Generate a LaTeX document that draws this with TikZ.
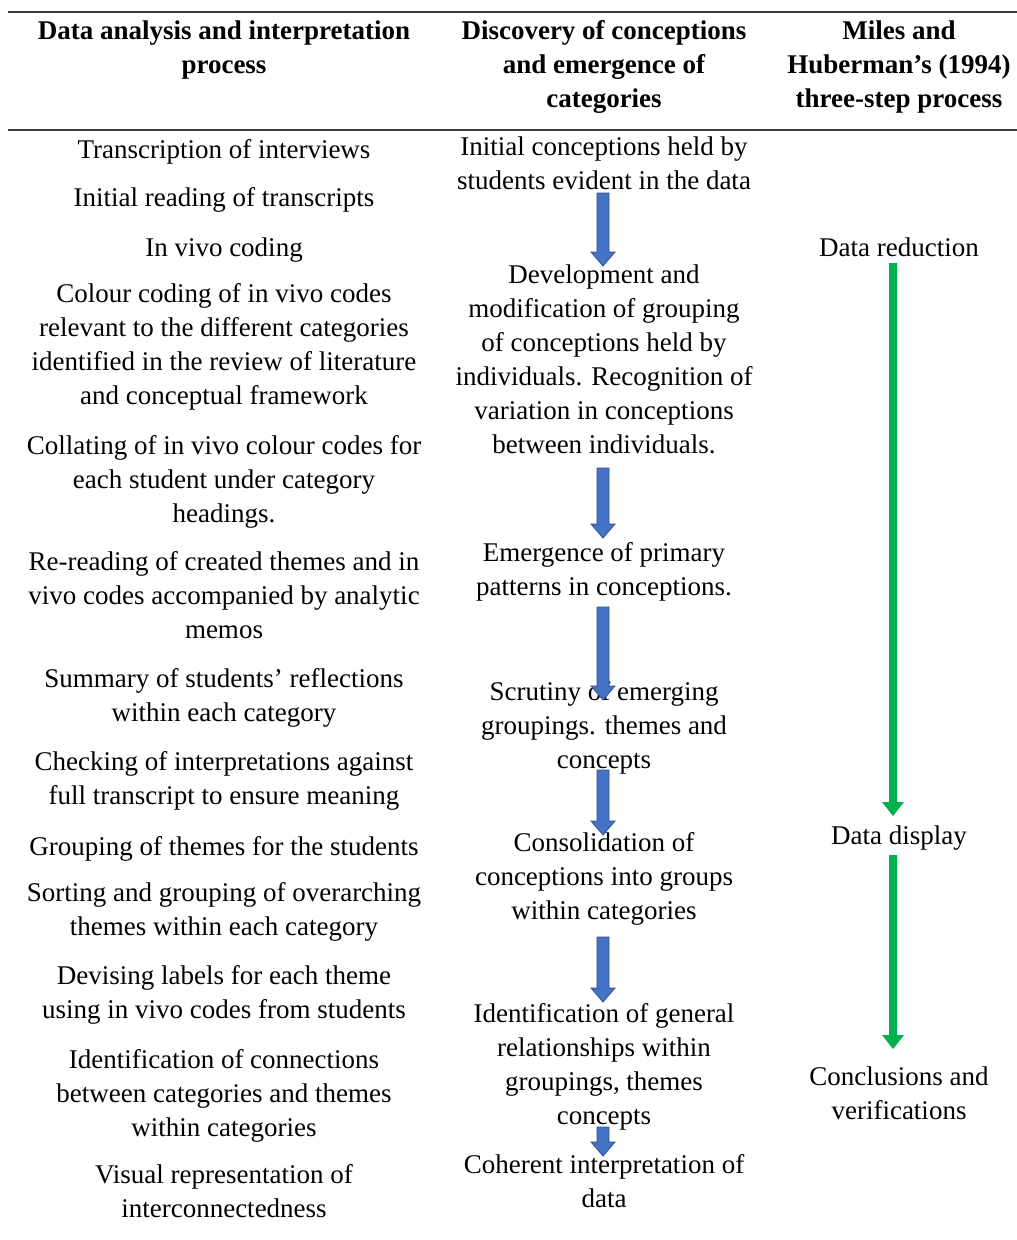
\documentclass[tikz,border=0pt]{standalone}
\usepackage{fontspec}
\setmainfont{Liberation Serif}
\usetikzlibrary{calc}

\definecolor{arrowblue}{HTML}{4472C4}
\definecolor{arrowblueedge}{HTML}{2F528F}
\definecolor{arrowgreen}{HTML}{00B050}
\definecolor{rulegray}{HTML}{3A3A3A}

% vertical block arrow from coordinate #2 down to coordinate #3
% #4 half shaft width, #5 half head width, #6 head length
\newcommand{\vblockarrow}[6]{%
  \draw[#1] let \p1=(#2), \p2=(#3) in
    (\x1-#4pt,\y1) -- (\x1+#4pt,\y1) -- (\x1+#4pt,\y2+#6pt) --
    (\x1+#5pt,\y2+#6pt) -- (\x1,\y2) -- (\x1-#5pt,\y2+#6pt) --
    (\x1-#4pt,\y2+#6pt) -- cycle;}

\tikzset{
  cell/.style={align=center, inner sep=0pt, yshift=-3.5pt,
    font=\fontsize{27}{34}\selectfont,
    execute at begin node=\strut, execute at end node=\strut},
  headcell/.style={cell, yshift=-1.5pt, font=\fontsize{27}{34}\selectfont\bfseries},
  bluearrow/.style={fill=arrowblue, draw=arrowblueedge, line width=0.8pt},
  greenarrow/.style={fill=arrowgreen, draw=none},
  tablerule/.style={draw=rulegray, line width=1.6pt}
}

\begin{document}
\begin{tikzpicture}[x=1pt,y=1pt]
\useasboundingbox[fill=white] (0,0) rectangle (1017,-1240);

% horizontal rules of the table
\draw[tablerule] (8,-12) -- (1017,-12);
\draw[tablerule] (8,-130) -- (1017,-130);

% column headings
\node[headcell] (h1) at (224,-47) {Data analysis and interpretation\\process};
\node[headcell] (h2) at (604,-64) {Discovery of conceptions\\and emergence of\\categories};
\node[headcell] (h3) at (899,-64) {Miles and\\Huberman’s (1994)\\three-step process};

% left column: analysis steps
\node[cell] (l1) at (224,-148) {Transcription of interviews};
\node[cell] (l2) at (224,-196) {Initial reading of transcripts};
\node[cell] (l3) at (224,-246) {In vivo coding};
\node[cell] (l4) at (224,-345.5) {Colour coding of in vivo codes\\relevant to the different categories\\identified in the review of literature\\and conceptual framework};
\node[cell] (l5) at (224,-480.5) {Collating of in vivo colour codes for\\each student under category\\headings.};
\node[cell] (l6) at (224,-597) {Re-reading of created themes and in\\vivo codes accompanied by analytic\\memos};
\node[cell] (l7) at (224,-697) {Summary of students’ reflections\\within each category};
\node[cell] (l8) at (224,-779.5) {Checking of interpretations against\\full transcript to ensure meaning};
\node[cell] (l9) at (224,-845) {Grouping of themes for the students};
\node[cell] (l10) at (224,-910.5) {Sorting and grouping of overarching\\themes within each category};
\node[cell] (l11) at (224,-993.5) {Devising labels for each theme\\using in vivo codes from students};
\node[cell] (l12) at (224,-1094.5) {Identification of connections\\between categories and themes\\within categories};
\node[cell] (l13) at (224,-1193) {Visual representation of\\interconnectedness};

% middle column: emergence of categories
\node[cell] (m1) at (604,-165) {Initial conceptions held by\\students evident in the data};
\node[cell] (m2) at (604,-361) {Development and\\modification of grouping\\of conceptions held by\\individuals. Recognition of\\variation in conceptions\\between individuals.};
\node[cell] (m3) at (604,-571) {Emergence of primary\\patterns in conceptions.};
\node[cell] (m4) at (604,-727) {Scrutiny of emerging\\groupings. themes and\\concepts};
\node[cell] (m5) at (604,-878) {Consolidation of\\conceptions into groups\\within categories};
\node[cell] (m6) at (604,-1066) {Identification of general\\relationships within\\groupings, themes\\concepts};
\node[cell] (m7) at (604,-1182.5) {Coherent interpretation of\\data};

% right column: three-step process
\node[cell] (r1) at (899,-246) {Data reduction};
\node[cell] (r2) at (899,-834) {Data display};
\node[cell] (r3) at (899,-1094.5) {Conclusions and\\verifications};

% arrow end points between the middle cells
\coordinate (b1s) at (603,-193);  \coordinate (b1e) at (603,-266);
\coordinate (b2s) at (603,-468);  \coordinate (b2e) at (603,-538);
\coordinate (b3s) at (603,-607);  \coordinate (b3e) at (603,-700);
\coordinate (b4s) at (603,-770);  \coordinate (b4e) at (603,-835);
\coordinate (b5s) at (603,-937);  \coordinate (b5e) at (603,-1002);
\coordinate (b6s) at (603,-1127); \coordinate (b6e) at (603,-1156);

\vblockarrow{bluearrow}{b1s}{b1e}{6}{12}{14}
\vblockarrow{bluearrow}{b2s}{b2e}{6}{12}{14}
\vblockarrow{bluearrow}{b3s}{b3e}{6}{12}{14}
\vblockarrow{bluearrow}{b4s}{b4e}{6}{12}{14}
\vblockarrow{bluearrow}{b5s}{b5e}{6}{12}{14}
\vblockarrow{bluearrow}{b6s}{b6e}{6}{12}{14}

% green arrows between the three steps
\coordinate (g1s) at (893,-263); \coordinate (g1e) at (893,-816);
\coordinate (g2s) at (893,-855); \coordinate (g2e) at (893,-1049);
\vblockarrow{greenarrow}{g1s}{g1e}{4}{11}{14}
\vblockarrow{greenarrow}{g2s}{g2e}{4}{11}{14}
\end{tikzpicture}
\end{document}
